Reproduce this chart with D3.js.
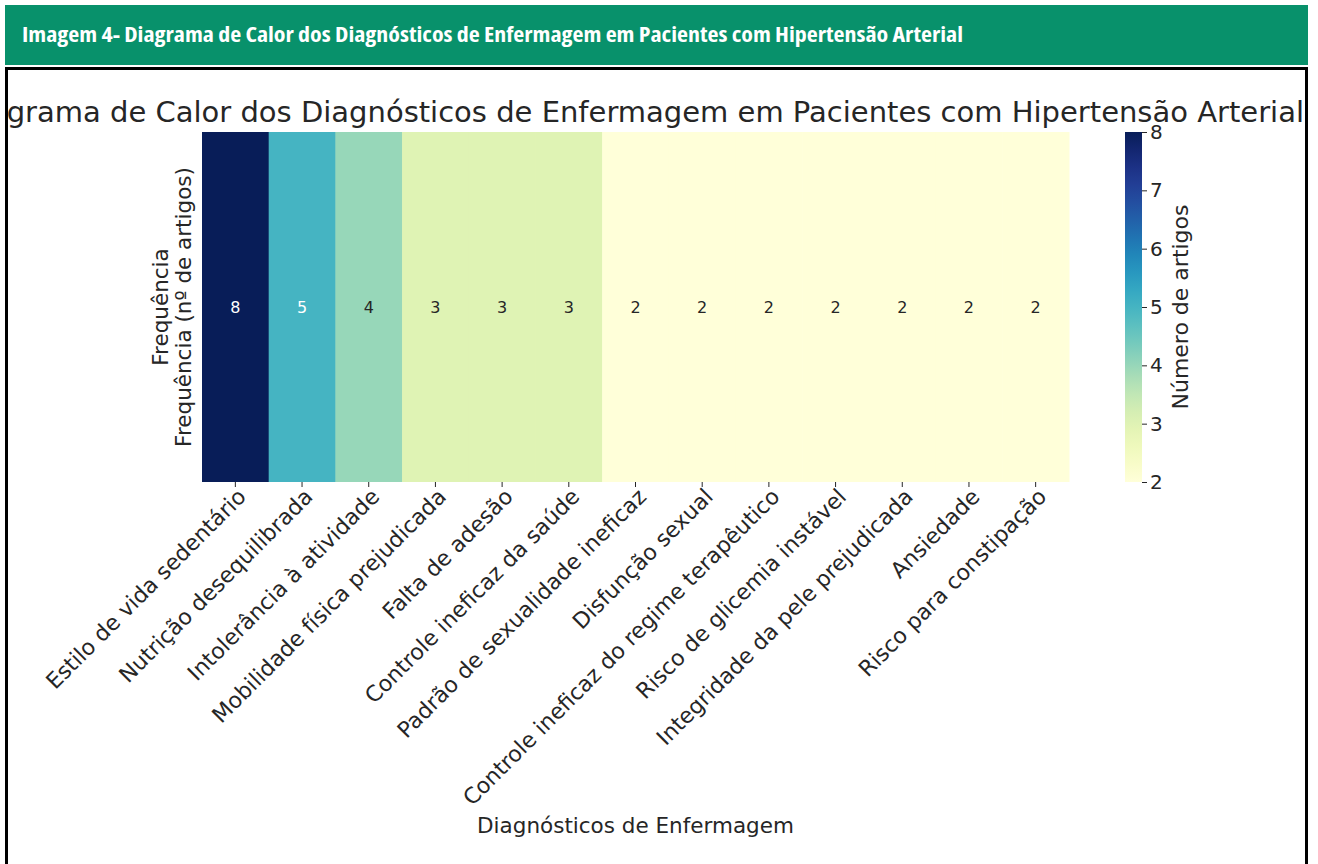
<!DOCTYPE html>
<html>
<head>
<meta charset="utf-8">
<script src="https://cdn.jsdelivr.net/npm/d3@7"></script>
<style>
  body { margin: 0; background: #fff; }
  text { font-family: "DejaVu Sans", sans-serif; }
</style>
</head>
<body>
<svg width="1318" height="864"></svg>
<script>
(function (d3) {
    'use strict';

    // data
    const diagnosticos = [
        'Estilo de vida sedentário',
        'Nutrição desequilibrada',
        'Intolerância à atividade',
        'Mobilidade física prejudicada',
        'Falta de adesão',
        'Controle ineficaz da saúde',
        'Padrão de sexualidade ineficaz',
        'Disfunção sexual',
        'Controle ineficaz do regime terapêutico',
        'Risco de glicemia instável',
        'Integridade da pele prejudicada',
        'Ansiedade',
        'Risco para constipação'
    ];
    const frequencia = [8, 5, 4, 3, 3, 3, 2, 2, 2, 2, 2, 2, 2];
    const colorTicks = [2, 3, 4, 5, 6, 7, 8];

    const svg = d3.select('svg');

    // header band + frame
    svg.append('rect')
        .attr('x', 5).attr('y', 5)
        .attr('width', 1303).attr('height', 60)
        .attr('fill', '#08916b');
    svg.append('text')
        .attr('x', 22).attr('y', 42)
        .attr('fill', '#fff')
        .attr('font-size', 21)
        .attr('font-weight', 'bold')
        .attr('textLength', 941)
        .attr('lengthAdjust', 'spacingAndGlyphs')
        .style('font-family', '"Liberation Sans Narrow", "Open Sans", sans-serif')
        .style('font-stretch', 'condensed')
        .text('Imagem 4- Diagrama de Calor dos Diagnósticos de Enfermagem em Pacientes com Hipertensão Arterial');

    svg.append('path')
        .attr('d', 'M6.5,864 V68.5 H1306.5 V864')
        .attr('fill', 'none')
        .attr('stroke', '#000')
        .attr('stroke-width', 3);

    svg.append('clipPath').attr('id', 'box')
        .append('rect').attr('x', 8).attr('y', 70).attr('width', 1297).attr('height', 794);

    // chart title (cut at the left by the frame, as in the source)
    svg.append('text')
        .attr('clip-path', 'url(#box)')
        .attr('x', 1304).attr('y', 122)
        .attr('text-anchor', 'end')
        .attr('font-size', 29)
        .attr('fill', '#262626')
        .text('Diagrama de Calor dos Diagnósticos de Enfermagem em Pacientes com Hipertensão Arterial');

    const left = 202, right = 1069, top = 132, bottom = 482;

    const x = d3.scaleBand()
        .domain(diagnosticos)
        .range([left, right])
        .padding(0);

    const color = d3.scaleSequential(d3.interpolateYlGnBu).domain([2, 8]);

    const cells = svg.append('g');
    cells.selectAll('rect')
        .data(diagnosticos)
        .join('rect')
        .attr('x', d => x(d))
        .attr('y', top)
        .attr('width', x.bandwidth() + 0.5)
        .attr('height', bottom - top)
        .attr('fill', (d, i) => color(frequencia[i]));

    const lum = c => {
        const rgb = d3.rgb(c);
        const f = v => { v /= 255; return v <= 0.03928 ? v / 12.92 : Math.pow((v + 0.055) / 1.055, 2.4); };
        return 0.2126 * f(rgb.r) + 0.7152 * f(rgb.g) + 0.0722 * f(rgb.b);
    };

    cells.selectAll('text')
        .data(diagnosticos)
        .join('text')
        .attr('x', d => x(d) + x.bandwidth() / 2)
        .attr('y', (top + bottom) / 2)
        .attr('dy', '0.35em')
        .attr('text-anchor', 'middle')
        .attr('font-size', 16)
        .attr('fill', (d, i) => lum(color(frequencia[i])) > 0.408 ? '#262626' : '#ffffff')
        .text((d, i) => frequencia[i]);

    // x axis
    const xAxis = svg.append('g')
        .attr('transform', `translate(0, ${bottom})`)
        .call(d3.axisBottom(x).tickSize(5).tickPadding(4));
    xAxis.select('.domain').remove();
    xAxis.selectAll('line').attr('stroke', '#262626');
    xAxis.selectAll('text')
        .attr('font-size', 22)
        .attr('fill', '#262626')
        .style('font-family', '"DejaVu Sans", sans-serif')
        .attr('text-anchor', 'end')
        .attr('transform', 'translate(1, 5) rotate(-45)')
        .attr('dy', '0.71em')
        .attr('y', 0);

    svg.append('text')
        .attr('x', (left + right) / 2)
        .attr('y', 833)
        .attr('text-anchor', 'middle')
        .attr('font-size', 21.5)
        .attr('fill', '#262626')
        .text('Diagnósticos de Enfermagem');

    // y labels
    svg.append('text')
        .attr('transform', `translate(168, ${(top + bottom) / 2}) rotate(-90)`)
        .attr('text-anchor', 'middle')
        .attr('font-size', 21.5)
        .attr('fill', '#262626')
        .text('Frequência');
    svg.append('text')
        .attr('transform', `translate(191, ${(top + bottom) / 2}) rotate(-90)`)
        .attr('text-anchor', 'middle')
        .attr('font-size', 21.5)
        .attr('fill', '#262626')
        .text('Frequência (nº de artigos)');

    // colorbar
    const cbX = 1125, cbW = 17;
    const grad = svg.append('defs').append('linearGradient')
        .attr('id', 'cb')
        .attr('x1', 0).attr('y1', 1).attr('x2', 0).attr('y2', 0);
    d3.range(0, 1.0001, 0.05).forEach(t => {
        grad.append('stop')
            .attr('offset', t)
            .attr('stop-color', d3.interpolateYlGnBu(t));
    });
    svg.append('rect')
        .attr('x', cbX).attr('y', top)
        .attr('width', cbW).attr('height', bottom - top)
        .attr('fill', 'url(#cb)');

    const cbScale = d3.scaleLinear().domain([2, 8]).range([bottom, top]);
    const cbAxis = svg.append('g')
        .attr('transform', `translate(${cbX + cbW}, 0)`)
        .call(d3.axisRight(cbScale).tickValues(colorTicks).tickFormat(d3.format('d')).tickSize(5).tickPadding(3));
    cbAxis.select('.domain').remove();
    cbAxis.selectAll('line').attr('stroke', '#262626');
    cbAxis.selectAll('text')
        .attr('font-size', 20)
        .attr('fill', '#262626')
        .style('font-family', '"DejaVu Sans", sans-serif');

    svg.append('text')
        .attr('transform', `translate(1188, ${(top + bottom) / 2}) rotate(-90)`)
        .attr('text-anchor', 'middle')
        .attr('font-size', 22)
        .attr('fill', '#262626')
        .text('Número de artigos');

}(d3));
</script>
</body>
</html>
